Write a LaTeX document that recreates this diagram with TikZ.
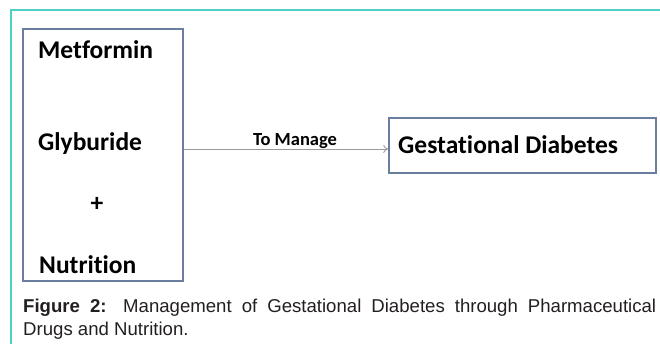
\documentclass[tikz,border=0pt]{standalone}
\usepackage{fontspec}
\setmainfont{Liberation Sans}
\newfontfamily\carlito[Ligatures=NoCommon]{Carlito}
\usetikzlibrary{arrows.meta}
\definecolor{framecol}{HTML}{4FD0C4}
\definecolor{boxcol}{HTML}{6A7FA0}
\definecolor{arrowcol}{HTML}{9A9A9A}
\definecolor{captioncol}{HTML}{231F20}
\tikzset{
  drugbox/.style={draw=boxcol,line width=1.6pt,inner sep=0pt},
  druglabel/.style={font=\carlito\bfseries\fontsize{25.5}{30}\selectfont,anchor=base west,inner sep=0pt},
  manage/.style={draw=arrowcol,line width=0.9pt,-{To[length=5pt,width=8pt]}},
}
\begin{document}
\begin{tikzpicture}[x=1pt,y=-1pt]
\useasboundingbox(0,0)rectangle(660,344);
\draw[framecol,line width=1.5pt](660,10)--(11,10)--(11,344);
% boxes
\node[drugbox,minimum width=160pt,minimum height=252pt](drugs)at(103,155){};
\node[drugbox,minimum width=267pt,minimum height=55pt](gd)at(522.5,145.5){};
% texts in the boxes
\node[druglabel](met)at(38,59){Metformin};
\node[druglabel](gly)at(38,151){Glyburide};
\node[druglabel,anchor=center](plus)at(97,204){+};
\node[druglabel](nut)at(39,273){Nutrition};
\node[druglabel](gdtext)at(398,154){Gestational Diabetes};
\draw[manage]([yshift=-3.5pt]drugs.east|-gd.west)--node[pos=0.544,anchor=base,yshift=3pt,inner sep=0pt,font=\carlito\bfseries\fontsize{18.5}{22}\selectfont]{To Manage}([yshift=-3.5pt]gd.west);
% caption
\node[anchor=north west,inner sep=0pt,text width=633pt,align=justify,text=captioncol,font=\fontsize{18.6}{22.5}\selectfont](cap)at(23,299){\textbf{Figure 2:} Management of Gestational Diabetes through Pharmaceutical Drugs and Nutrition.};
\end{tikzpicture}
\end{document}
